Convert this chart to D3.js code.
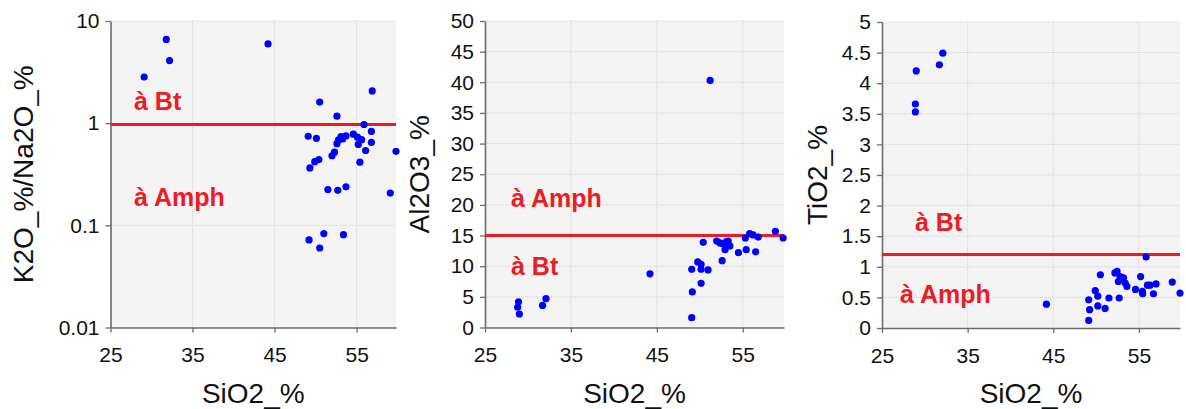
<!DOCTYPE html>
<html>
<head>
<meta charset="utf-8">
<script src="https://cdn.jsdelivr.net/npm/d3@7"></script>
<style>
  body { margin: 0; background: #fff; }
  svg text { font-family: "Liberation Sans", Arial, sans-serif; }
</style>
</head>
<body>
<div id="chart"></div>
<script>
(function () {
  "use strict";

  // K2O/Na2O vs SiO2
  const kSiO2 = [29.1, 31.8, 32.2, 44.2, 56.9, 50.5, 52.6, 55.9, 49.1, 50.1, 56.8, 53.1, 53.7, 54.6, 55.1,
    55.6, 55.2, 56.8, 56.1, 52.8, 52.6, 53.3, 52.3, 52.0, 50.4, 49.9, 49.3, 59.8, 55.4, 51.5, 52.7, 53.7,
    59.1, 49.2, 51.0, 53.4, 50.5];
  const k2oNa2o = [2.83, 6.6, 4.1, 5.96, 2.07, 1.61, 1.17, 0.97, 0.745, 0.71, 0.83, 0.74, 0.75, 0.78, 0.73,
    0.69, 0.62, 0.65, 0.54, 0.685, 0.63, 0.70, 0.52, 0.48, 0.44, 0.42, 0.365, 0.53, 0.415, 0.224, 0.22, 0.238,
    0.207, 0.072, 0.083, 0.081, 0.060];

  // Al2O3 vs SiO2
  const alSiO2 = [28.9, 28.8, 29.0, 31.7, 32.1, 44.2, 51.2, 49.06, 49.13, 49.06, 49.76, 50.15, 50.15, 50.15,
    50.96, 50.4, 52.6, 51.97, 52.36, 52.94, 53.3, 53.5, 52.94, 54.5, 55.4, 56.5, 55.3, 55.8, 56.2, 56.8,
    58.8, 59.7, 53.1, 52.6];
  const al2o3 = [4.2, 3.3, 2.2, 3.6, 4.7, 8.75, 40.3, 1.6, 5.8, 9.5, 10.7, 10.3, 9.5, 7.2,
    9.4, 13.9, 10.9, 14.1, 13.8, 13.5, 14.1, 13.3, 12.7, 12.2, 12.7, 12.35, 14.6, 15.3, 15.1, 14.75,
    15.7, 14.6, 14.0, 13.7];

  // TiO2 vs SiO2
  const tiSiO2 = [29.0, 28.9, 28.9, 31.7, 32.1, 44.2, 49.14, 49.25, 49.14, 49.9, 50.2, 50.2, 50.5, 51.05,
    51.5, 52.2, 52.45, 52.7, 52.6, 52.8, 53.2, 53.4, 53.6, 54.6, 55.2, 55.44, 55.84, 56.0, 56.3, 56.7,
    57.0, 58.9, 59.8, 55.4];
  const tio2 = [4.2, 3.66, 3.53, 4.30, 4.49, 0.39, 0.124, 0.30, 0.46, 0.61, 0.52, 0.36, 0.87, 0.32,
    0.49, 0.90, 0.925, 0.49, 0.76, 0.84, 0.82, 0.735, 0.68, 0.63, 0.84, 0.56, 1.16, 0.70, 0.70, 0.56,
    0.72, 0.75, 0.57, 0.60];

  const xTicks = [25, 35, 45, 55];
  const kTicks = [0.01, 0.1, 1, 10];
  const alTicks = [0, 5, 10, 15, 20, 25, 30, 35, 40, 45, 50];
  const tiTicks = [0, 0.5, 1, 1.5, 2, 2.5, 3, 3.5, 4, 4.5, 5];

  const red = "#ec1c24";
  const axisColor = "#6b6b6b";

  const panels = [
    {
      xs: kSiO2, ys: k2oNa2o, log: true, yDomain: [0.01, 10], yTicks: kTicks,
      box: { left: 110.5, right: 396, top: 21, bottom: 327.5 },
      title: "K2O_%/Na2O_%", titleX: 33, limit: 0.97,
      labels: [
        { text: "à Bt", x: 134, y: 110 },
        { text: "à Amph", x: 134, y: 206 }
      ]
    },
    {
      xs: alSiO2, ys: al2o3, log: false, yDomain: [0, 50], yTicks: alTicks,
      box: { left: 485, right: 784, top: 21, bottom: 327.5 },
      title: "Al2O3_%", titleX: 429, limit: 15,
      labels: [
        { text: "à Amph", x: 511, y: 207 },
        { text: "à Bt", x: 511, y: 275 }
      ]
    },
    {
      xs: tiSiO2, ys: tio2, log: false, yDomain: [0, 5], yTicks: tiTicks,
      box: { left: 882, right: 1180, top: 22, bottom: 328 },
      title: "TiO2_%", titleX: 827, limit: 1.2,
      labels: [
        { text: "à Bt", x: 915, y: 231 },
        { text: "à Amph", x: 900, y: 303 }
      ]
    }
  ];

  const svg = d3.select("#chart")
    .append("svg")
    .attr("width", 1186)
    .attr("height", 409);

  panels.forEach(drawPanel);

  function drawPanel(p) {
    const b = p.box;
    const x = d3.scaleLinear().domain([25, 59.8]).range([b.left, b.right]);
    const y = (p.log ? d3.scaleLog() : d3.scaleLinear())
      .domain(p.yDomain)
      .range([b.bottom, b.top]);

    const g = svg.append("g");

    // plot background
    g.append("rect")
      .attr("x", b.left)
      .attr("y", b.top)
      .attr("width", b.right - b.left)
      .attr("height", b.bottom - b.top)
      .attr("fill", "#f3f3f3");

    // dotted grid
    g.append("g")
      .selectAll("line")
      .data(xTicks.slice(1))
      .join("line")
      .attr("x1", (d) => x(d))
      .attr("x2", (d) => x(d))
      .attr("y1", b.top)
      .attr("y2", b.bottom)
      .attr("stroke", "#d2d2d2")
      .attr("stroke-dasharray", "1,1");

    g.append("g")
      .selectAll("line")
      .data(p.yTicks.slice(1))
      .join("line")
      .attr("x1", b.left)
      .attr("x2", b.right)
      .attr("y1", (d) => y(d))
      .attr("y2", (d) => y(d))
      .attr("stroke", "#d2d2d2")
      .attr("stroke-dasharray", "1,1");

    // axes
    const xAxis = g.append("g")
      .attr("transform", `translate(0,${b.bottom})`)
      .call(d3.axisBottom(x).tickValues(xTicks).tickSize(5).tickPadding(15).tickSizeOuter(0));

    const yAxis = g.append("g")
      .attr("transform", `translate(${b.left},0)`)
      .call(d3.axisLeft(y).tickValues(p.yTicks).tickFormat((d) => String(d))
        .tickSize(5).tickPadding(6).tickSizeOuter(0));

    [xAxis, yAxis].forEach((a) => {
      a.select(".domain").attr("stroke", axisColor).attr("stroke-width", 1.6);
      a.selectAll(".tick line").attr("stroke", axisColor).attr("stroke-width", 1.3);
      a.selectAll(".tick text")
        .attr("fill", "#111")
        .style("font-size", "21px")
        .style("font-family", '"Liberation Sans", Arial, sans-serif');
    });

    // threshold line
    g.append("line")
      .attr("x1", b.left)
      .attr("x2", b.right)
      .attr("y1", y(p.limit))
      .attr("y2", y(p.limit))
      .attr("stroke", red)
      .attr("stroke-width", 3);

    // points
    g.append("g")
      .selectAll("circle")
      .data(p.xs.map((d, i) => [d, p.ys[i]]))
      .join("circle")
      .attr("cx", (d) => x(d[0]))
      .attr("cy", (d) => y(d[1]))
      .attr("r", 3.6)
      .attr("fill", "#0000ff");

    // field labels
    g.selectAll(".field")
      .data(p.labels)
      .join("text")
      .attr("class", "field")
      .attr("x", (d) => d.x)
      .attr("y", (d) => d.y)
      .attr("fill", red)
      .style("font-size", "25px")
      .style("font-weight", "bold")
      .text((d) => d.text);

    // axis titles
    g.append("text")
      .attr("x", (b.left + b.right) / 2)
      .attr("y", 403)
      .attr("text-anchor", "middle")
      .style("font-size", "28px")
      .attr("fill", "#111")
      .text("SiO2_%");

    g.append("text")
      .attr("transform", `translate(${p.titleX},${(b.top + b.bottom) / 2}) rotate(-90)`)
      .attr("text-anchor", "middle")
      .style("font-size", "28px")
      .attr("fill", "#111")
      .text(p.title);
  }
})();
</script>
</body>
</html>
